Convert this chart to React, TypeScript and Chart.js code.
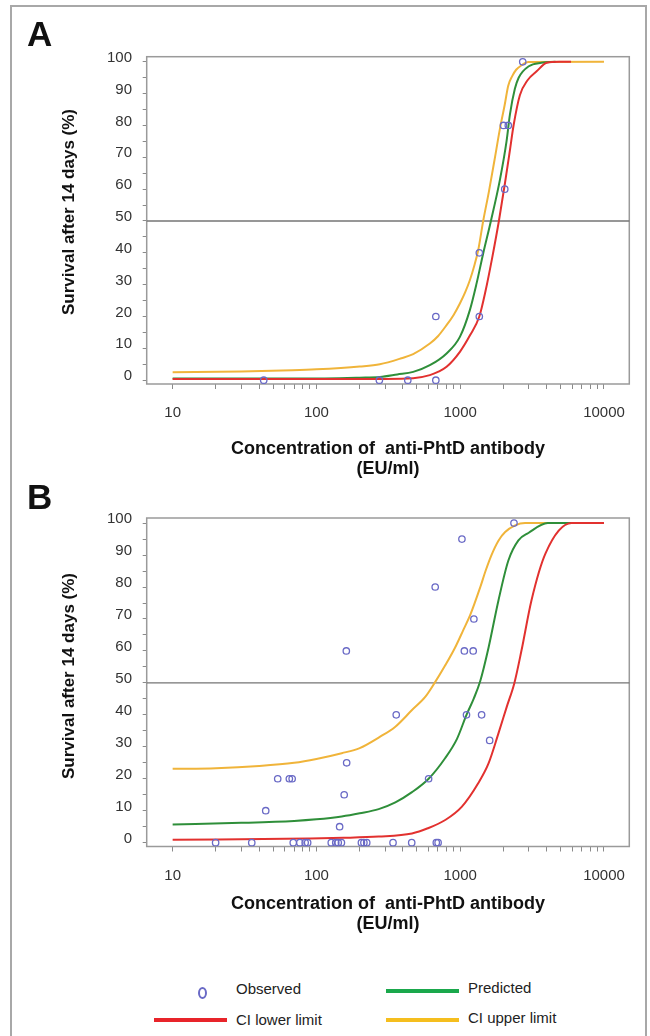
import React, { useEffect, useRef } from "react";
import { Chart, registerables } from "chart.js";

Chart.register(...registerables);

// ---------- Panel A data ----------
const aObsConc = [43, 274, 432, 677, 677, 1358, 1358, 2041, 2000, 2160, 2722];
const aObsSurv = [0, 0, 0, 0, 20, 40, 20, 60, 80, 80, 100];

const aPredConc = [10, 80, 200, 276, 365, 471, 615, 804, 995, 1167, 1300, 1445, 1635, 1890, 2100, 2218, 2400, 2550, 3000, 3670, 4600];
const aPredSurv = [0.5, 0.5, 0.8, 1.0, 1.8, 2.6, 4.7, 8.4, 13.6, 22, 30.4, 39.8, 50, 63, 75, 83.5, 91.5, 95, 98.6, 99.7, 100];

const aLowConc = [10, 300, 471, 615, 700, 804, 995, 1167, 1358, 1500, 1670, 1858, 2050, 2218, 2350, 2600, 2940, 3400, 4000, 4900, 5900];
const aLowSurv = [0.4, 0.4, 0.6, 1.6, 2.6, 4.2, 8.9, 14, 20, 28, 38.5, 50, 62, 72.3, 80, 89.5, 94.2, 97, 99.7, 100, 100];

const aUpConc = [10, 30, 68, 100, 200, 276, 390, 471, 615, 700, 804, 900, 995, 1080, 1167, 1250, 1334, 1445, 1580, 1730, 1890, 2040, 2158, 2300, 2450, 2650, 2980, 10000];
const aUpSurv = [2.5, 2.7, 3.1, 3.4, 4.3, 5.0, 6.9, 8.2, 11.5, 13.8, 17.3, 20.5, 24.1, 27.5, 31.4, 35.8, 40.8, 50, 59, 69, 79, 86.5, 92.5, 95.5, 97.5, 98.8, 99.9, 100];

// ---------- Panel B data ----------
const bObsConc = [19.9, 35.5, 44.4, 53.8, 64.8, 67.8, 69, 76.7, 83.5, 86.9, 126.8, 136.3, 141.8, 149.2, 145, 156, 161.4, 162.3, 205.5, 213.9, 223.8, 341, 359, 460, 603, 670, 682, 702, 1028, 1069, 1106, 1231, 1245, 1409, 1603, 2366];
const bObsSurv = [0, 0, 10, 20, 20, 20, 0, 0, 0, 0, 0, 0, 0, 0, 5, 15, 60, 25, 0, 0, 0, 0, 40, 0, 20, 80, 0, 0, 95, 60, 40, 60, 70, 40, 32, 100];

const bPredConc = [10, 30, 70, 100, 150, 200, 271, 354, 462, 603, 787, 950, 1106, 1240, 1377, 1574, 1845, 2163, 2540, 2980, 4060, 10000];
const bPredSurv = [5.7, 6.2, 6.8, 7.3, 8.2, 9.2, 10.5, 12.6, 15.8, 20, 26.5, 32.5, 40, 45, 50.5, 61, 75.8, 88.3, 94.6, 96.9, 100, 100];

const bLowConc = [10, 88, 155, 271, 462, 595, 787, 1028, 1334, 1574, 1845, 2107, 2382, 2670, 3130, 3928, 5958, 10000];
const bLowSurv = [0.9, 1.3, 1.5, 1.9, 2.9, 4.5, 7.1, 11.3, 18.6, 24.8, 34.2, 42.5, 50, 60.2, 75.8, 90.6, 100, 100];

const bUpConc = [10, 20, 40, 70, 100, 150, 200, 271, 354, 462, 571, 664, 787, 920, 1050, 1180, 1380, 1500, 1650, 1845, 2054, 2411, 2827, 10000];
const bUpSurv = [23.1, 23.3, 24.0, 25.0, 26.2, 28, 29.6, 32.9, 36.3, 41.5, 45.6, 50, 55.5, 61, 66.5, 71.5, 80, 85, 90, 94.5, 97.2, 99.3, 100, 100];

// ---------- axes ----------
const yTickValues = [0, 5, 10, 15, 20, 25, 30, 35, 40, 45, 50, 55, 60, 65, 70, 75, 80, 85, 90, 95, 100];
const yTickLabels = ["0", "10", "20", "30", "40", "50", "60", "70", "80", "90", "100"];
const xTickValues = [10, 20, 30, 40, 50, 60, 70, 80, 90, 100, 200, 300, 400, 500, 600, 700, 800, 900, 1000, 2000, 3000, 4000, 5000, 6000, 7000, 8000, 9000, 10000];
const xTickLabels = ["10", "100", "1000", "10000"];
const referenceLevel = 50;

const FONT = "'Liberation Sans', Arial, Helvetica, sans-serif";
const RED = "#e2312f";
const GREEN = "#2f8f3a";
const YELLOW = "#f0b43a";
const OBS = "#6a6ac6";
const FRAME = "#9a9a9a";

const CANVAS_W = 650;
const CANVAS_H = 440;
const AREA_LEFT = 146.7;
const AREA_RIGHT = 629.3;

type PanelSpec = {
  top: number;
  areaTop: number;
  areaBottom: number;
  obs: [number[], number[]];
  pred: [number[], number[]];
  low: [number[], number[]];
  up: [number[], number[]];
};

const pts = (xs: number[], ys: number[]) => xs.map((x, i) => ({ x, y: ys[i] }));

const framePlugin = {
  id: "frame",
  beforeDatasetsDraw(chart: any) {
    const { ctx, chartArea, scales } = chart;
    const { left, right, top, bottom } = chartArea;
    ctx.save();
    ctx.strokeStyle = FRAME;
    ctx.lineWidth = 1.5;
    ctx.strokeRect(left, top, right - left, bottom - top);
    const y50 = scales.y.getPixelForValue(referenceLevel);
    ctx.strokeStyle = "#747474";
    ctx.lineWidth = 1.3;
    ctx.beginPath();
    ctx.moveTo(left, y50);
    ctx.lineTo(right, y50);
    ctx.stroke();
    ctx.restore();
  },
};

function lineDs(label: string, d: [number[], number[]], color: string, order: number) {
  return {
    label,
    data: pts(d[0], d[1]),
    showLine: true,
    borderColor: color,
    backgroundColor: color,
    borderWidth: 2,
    pointRadius: 0,
    cubicInterpolationMode: "monotone",
    order,
  };
}

function makeConfig(p: PanelSpec): any {
  return {
    type: "scatter",
    data: {
      datasets: [
        {
          label: "Observed",
          data: pts(p.obs[0], p.obs[1]),
          showLine: false,
          pointRadius: 3.2,
          pointBorderWidth: 1.3,
          pointBorderColor: OBS,
          pointBackgroundColor: "rgba(0,0,0,0)",
          order: 0,
        },
        lineDs("CI lower limit", p.low, RED, 1),
        lineDs("Predicted", p.pred, GREEN, 2),
        lineDs("CI upper limit", p.up, YELLOW, 3),
      ],
    },
    options: {
      responsive: false,
      animation: false,
      devicePixelRatio: 1,
      events: [],
      layout: {
        autoPadding: false,
        padding: { left: 0, right: CANVAS_W - AREA_RIGHT, top: p.areaTop, bottom: 0 },
      },
      plugins: { legend: { display: false }, tooltip: { enabled: false }, title: { display: false } },
      scales: {
        x: {
          type: "logarithmic",
          min: 6.6,
          max: 15000,
          afterBuildTicks: (s: any) => {
            s.ticks = xTickValues.map((v) => ({ value: v }));
          },
          afterFit: (s: any) => {
            s.height = CANVAS_H - p.areaBottom;
          },
          ticks: {
            autoSkip: false,
            maxRotation: 0,
            minRotation: 0,
            padding: 15,
            color: "#333",
            font: { family: FONT, size: 15 },
            callback: (v: any) => (xTickLabels.includes(String(v)) ? String(v) : ""),
          },
          grid: { drawOnChartArea: false, drawTicks: true, tickLength: 5, color: "#8a8a8a", tickColor: "#8a8a8a" },
          border: { display: false },
        },
        y: {
          type: "linear",
          min: -1.2,
          max: 101.6,
          afterBuildTicks: (s: any) => {
            s.ticks = yTickValues.map((v) => ({ value: v }));
          },
          afterFit: (s: any) => {
            s.width = AREA_LEFT;
          },
          ticks: {
            autoSkip: false,
            padding: 10.7,
            labelOffset: -4,
            color: "#333",
            font: { family: FONT, size: 15 },
            callback: (v: any) => (yTickLabels.includes(String(v)) ? String(v) : ""),
          },
          grid: { drawOnChartArea: false, drawTicks: true, tickLength: 4, color: "#8a8a8a", tickColor: "#8a8a8a" },
          border: { display: false },
        },
      },
    },
    plugins: [framePlugin],
  };
}

function Panel({ spec }: { spec: PanelSpec }) {
  const ref = useRef<HTMLCanvasElement | null>(null);
  useEffect(() => {
    if (!ref.current) return;
    const chart = new Chart(ref.current, makeConfig(spec));
    return () => chart.destroy();
  }, [spec]);
  return (
    <canvas
      ref={ref}
      width={CANVAS_W}
      height={CANVAS_H}
      style={{ position: "absolute", left: 0, top: spec.top, width: CANVAS_W, height: CANVAS_H, display: "block" }}
    />
  );
}

const panelA: PanelSpec = {
  top: 0,
  areaTop: 56.7,
  areaBottom: 384,
  obs: [aObsConc, aObsSurv],
  pred: [aPredConc, aPredSurv],
  low: [aLowConc, aLowSurv],
  up: [aUpConc, aUpSurv],
};

const panelB: PanelSpec = {
  top: 461,
  areaTop: 57,
  areaBottom: 385.5,
  obs: [bObsConc, bObsSurv],
  pred: [bPredConc, bPredSurv],
  low: [bLowConc, bLowSurv],
  up: [bUpConc, bUpSurv],
};

const txt: React.CSSProperties = {
  position: "absolute",
  fontFamily: FONT,
  color: "#111",
  whiteSpace: "pre",
  lineHeight: 1,
};

function Titles({ letter, letterTop, yCenter, xLine1 }: { letter: string; letterTop: number; yCenter: number; xLine1: number }) {
  return (
    <>
      <div style={{ ...txt, left: 27, top: letterTop, fontSize: 35, fontWeight: 700, lineHeight: "35px" }}>{letter}</div>
      <div
        style={{
          ...txt,
          left: 68.3,
          top: yCenter,
          fontSize: 17,
          fontWeight: 700,
          transform: "translate(-50%, -50%) rotate(-90deg)",
        }}
      >
        Survival after 14 days (%)
      </div>
      <div
        style={{
          ...txt,
          left: AREA_LEFT,
          width: AREA_RIGHT - AREA_LEFT,
          top: xLine1 - 10,
          textAlign: "center",
          fontSize: 18,
          fontWeight: 700,
          lineHeight: "20px",
        }}
      >
        {"Concentration of  anti-PhtD antibody\n(EU/ml)"}
      </div>
    </>
  );
}

function LegendLine({ left, top, color }: { left: number; top: number; color: string }) {
  return <div style={{ position: "absolute", left, top: top - 2, width: 73, height: 4, background: color }} />;
}

function LegendText({ left, cy, text }: { left: number; cy: number; text: string }) {
  return (
    <div style={{ ...txt, left, top: cy, transform: "translateY(-50%)", fontSize: 15, lineHeight: "18px", color: "#222" }}>
      {text}
    </div>
  );
}

export default function App() {
  return (
    <div style={{ position: "absolute", left: 0, top: 0, width: 650, height: 1036, overflow: "hidden", background: "#fff" }}>
      <div
        style={{
          position: "absolute",
          left: 9.5,
          top: 5,
          width: 637,
          height: 1060,
          border: "2px solid #a8a8a8",
          boxSizing: "border-box",
        }}
      />
      <Panel spec={panelA} />
      <Panel spec={panelB} />
      <Titles letter="A" letterTop={15.5} yCenter={211.5} xLine1={448} />
      <Titles letter="B" letterTop={479} yCenter={676} xLine1={903} />
      {/* legend */}
      <div
        style={{
          position: "absolute",
          left: 198,
          top: 987,
          width: 5,
          height: 8,
          border: `2px solid ${OBS}`,
          borderRadius: "50%",
        }}
      />
      <LegendText left={236} cy={989} text="Observed" />
      <LegendLine left={386} top={991} color="#1aa84c" />
      <LegendText left={468} cy={988} text="Predicted" />
      <LegendLine left={154} top={1020} color="#e8242a" />
      <LegendText left={236} cy={1020} text="CI lower limit" />
      <LegendLine left={386} top={1020} color="#f5be1e" />
      <LegendText left={468} cy={1018} text="CI upper limit" />
    </div>
  );
}
